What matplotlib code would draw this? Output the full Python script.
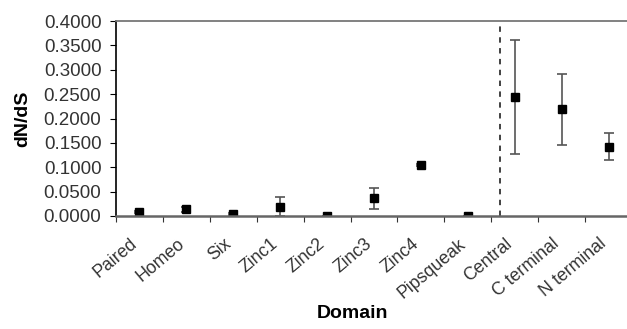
import matplotlib
matplotlib.use("Agg")
import matplotlib.pyplot as plt
import numpy as np

categories = ["Paired", "Homeo", "Six", "Zinc1", "Zinc2", "Zinc3", "Zinc4",
              "Pipsqueak", "Central", "C terminal", "N terminal"]
values = [0.009, 0.014, 0.005, 0.019, 0.001, 0.036, 0.105, 0.001, 0.2435, 0.2195, 0.142]
err_low = [0.002, 0.005, 0.002, 0.019, 0.0, 0.022, 0.002, 0.0, 0.117, 0.074, 0.027]
err_high = [0.002, 0.005, 0.002, 0.019, 0.0, 0.022, 0.002, 0.0, 0.117, 0.072, 0.028]
y_ticks = [0.0, 0.05, 0.10, 0.15, 0.20, 0.25, 0.30, 0.35, 0.40]
divider_pos = 7.68

plt.rcParams['font.family'] = ['Liberation Sans', 'DejaVu Sans']

fig = plt.figure(figsize=(6.27, 3.29), dpi=100)
ax = fig.add_axes([116/627, (329-216)/329, 516/627, 195/329])

x = np.arange(len(categories))
ax.errorbar(x, values, yerr=[err_low, err_high], fmt='s', color='black',
            markersize=5.5, ecolor='#555555', elinewidth=1.2, capsize=3.5, capthick=1.2)

ax.axvline(divider_pos, color='#333333', linestyle=(0, (3, 3)), linewidth=1.3)

ax.set_xlim(-0.5, len(categories) - 0.5)
ax.set_ylim(0, 0.4)
ax.set_yticks(y_ticks)
ax.set_yticklabels([f"{v:.4f}" for v in y_ticks], fontsize=13.5, color='#333333')
ax.set_xticks(np.arange(-0.5, len(categories)))
ax.set_xticklabels([])
ax.tick_params(axis='x', length=4, direction='out', color='#333333')
ax.tick_params(axis='y', length=4.5, direction='out', pad=6)

for i, cat in enumerate(categories):
    ax.annotate(cat, xy=(i, 0), xycoords=('data', 'axes fraction'),
                xytext=(-7, -14), textcoords='offset points',
                rotation=40, ha='right', va='top', rotation_mode='anchor',
                fontsize=12.8, color='#333333', annotation_clip=False)

ax.spines['right'].set_visible(False)
ax.spines['top'].set_color('#777777')
ax.spines['top'].set_linewidth(1.3)
ax.spines['bottom'].set_color('#666666')
ax.spines['bottom'].set_linewidth(1.8)
ax.spines['left'].set_color('black')
ax.spines['left'].set_linewidth(1.2)

ax.set_ylabel("dN/dS", fontsize=14, fontweight='bold', labelpad=9)
ax.set_xlabel("Domain", fontsize=14, fontweight='bold', va='center')
ax.xaxis.set_label_coords((352 - 116) / 516, (216 - 313) / 195)

fig.savefig("out.png", dpi=100)
